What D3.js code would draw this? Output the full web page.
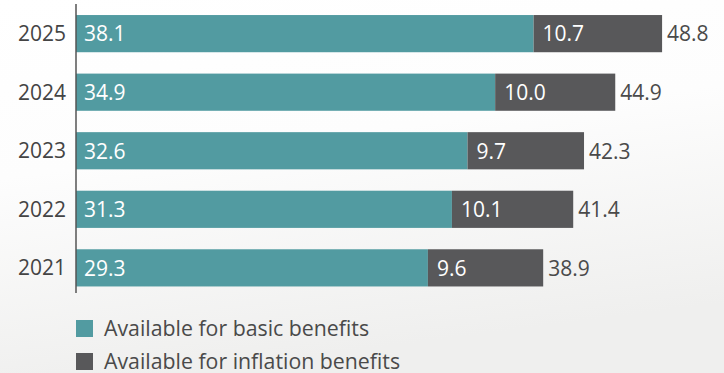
<!DOCTYPE html>
<html>
<head>
<meta charset="utf-8">
<script src="https://cdn.jsdelivr.net/npm/d3@7"></script>
<style>
  html, body { margin: 0; padding: 0; }
  body { width: 724px; height: 373px; overflow: hidden; }
  svg text { font-family: "Open Sans", "Noto Sans", sans-serif; }
</style>
</head>
<body>
<svg id="chart" width="724" height="373"></svg>
<script>
const years = ["2025", "2024", "2023", "2022", "2021"];
const basic = [38.1, 34.9, 32.6, 31.3, 29.3];
const inflation = [10.7, 10.0, 9.7, 10.1, 9.6];
const totals = [48.8, 44.9, 42.3, 41.4, 38.9];
const seriesNames = ["Available for basic benefits", "Available for inflation benefits"];
const colors = ["#529ba1", "#58585a"];

const svg = d3.select("#chart");
const W = 724, H = 373;

// background
const defs = svg.append("defs");
const grad = defs.append("linearGradient").attr("id", "bg")
  .attr("x1", "0").attr("y1", "0").attr("x2", "0.25").attr("y2", "1");
grad.append("stop").attr("offset", "0").attr("stop-color", "#ffffff");
grad.append("stop").attr("offset", "0.45").attr("stop-color", "#fdfdfd");
grad.append("stop").attr("offset", "1").attr("stop-color", "#efefee");
svg.append("rect").attr("width", W).attr("height", H).attr("fill", "url(#bg)");

const x0 = 76;
const x = d3.scaleLinear().domain([0, 10]).range([x0, x0 + 120.1]);
const y = d3.scaleBand().domain(years).range([4.5, 297]).paddingInner(0.365).paddingOuter(0.18);

const data = years.map((yr, i) => ({ year: yr, basic: basic[i], inflation: inflation[i], total: totals[i] }));
const stack = d3.stack().keys(["basic", "inflation"])(data);

const FS = 21;
const g = svg.append("g");
stack.forEach((layer, li) => {
  g.selectAll(null).data(layer).enter().append("rect")
    .attr("x", d => x(d[0]))
    .attr("y", d => y(d.data.year))
    .attr("width", d => x(d[1]) - x(d[0]))
    .attr("height", y.bandwidth())
    .attr("fill", colors[li]);
});

// inside labels
g.selectAll(null).data(data).enter().append("text")
  .attr("x", d => x(0) + 8)
  .attr("y", d => y(d.year) + y.bandwidth() / 2 + 7.8)
  .attr("fill", "#ffffff").attr("font-size", FS)
  .text(d => d.basic.toFixed(1));
g.selectAll(null).data(data).enter().append("text")
  .attr("x", d => x(d.basic) + 9)
  .attr("y", d => y(d.year) + y.bandwidth() / 2 + 7.8)
  .attr("fill", "#ffffff").attr("font-size", FS)
  .text(d => d.inflation.toFixed(1));
g.selectAll(null).data(data).enter().append("text")
  .attr("x", d => x(d.total) + 5)
  .attr("y", d => y(d.year) + y.bandwidth() / 2 + 7.8)
  .attr("fill", "#4a4a4a").attr("font-size", FS)
  .text(d => d.total.toFixed(1));

// y axis
const yAxis = d3.axisLeft(y).tickSize(0).tickPadding(10);
const ax = svg.append("g").attr("transform", `translate(${x0},0)`).call(yAxis);
ax.select(".domain").attr("stroke", "#555").attr("stroke-width", 1.5).attr("d", "M0,4V293");
ax.selectAll(".tick text").attr("font-size", FS).attr("fill", "#444")
  .attr("font-family", "Open Sans, Noto Sans, sans-serif")
  .attr("dy", "0.36em");

// legend
const lg = svg.append("g");
seriesNames.forEach((name, i) => {
  const ly = 320 + i * 33;
  lg.append("rect").attr("x", 76).attr("y", ly).attr("width", 17).attr("height", 17).attr("fill", colors[i]);
  lg.append("text").attr("x", 104).attr("y", ly + 16).attr("font-size", 21.3).attr("fill", "#4a4a4a").text(name);
});
</script>
</body>
</html>
